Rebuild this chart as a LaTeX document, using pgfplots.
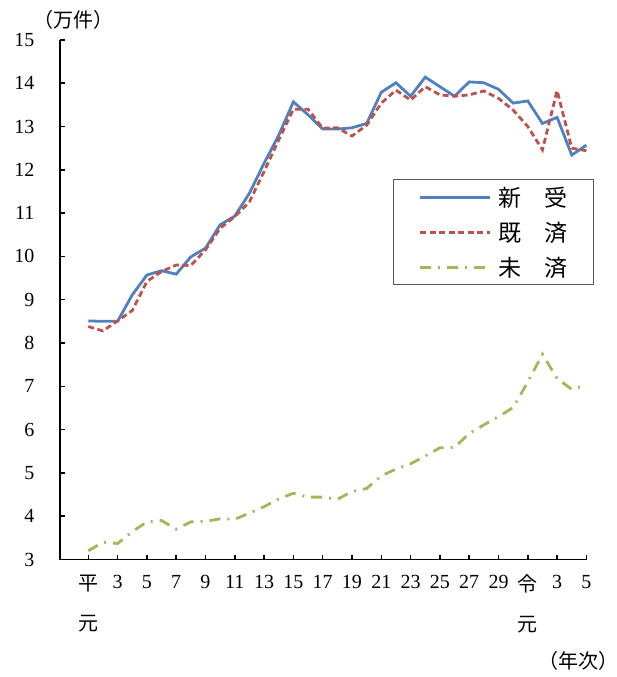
\documentclass[border=0pt]{standalone}
\usepackage{fontspec}
\setmainfont{Liberation Serif}
\newfontfamily\jp{Noto Sans CJK JP}
\usepackage{pgfplots}
\pgfplotsset{compat=1.18}
\definecolor{cblue}{HTML}{4F81BD}
\definecolor{cred}{HTML}{C0504D}
\definecolor{cgreen}{HTML}{9BBB59}
\begin{document}
\begin{tikzpicture}
\useasboundingbox (-60bp,-117.5bp) rectangle (557bp,559.5bp);
\begin{axis}[
  at={(0bp,0bp)}, anchor=south west,
  scale only axis, width=526.4bp, height=519.6bp,
  xmin=-1.93, xmax=34, ymin=3, ymax=15,
  axis x line=bottom, axis y line=left,
  axis line style={-, line width=1.8bp, black},
  xtick={0,2,...,34},
  xticklabels={{\jp 平\\[16bp]\jp 元},3,5,7,9,11,13,15,17,19,21,23,25,27,29,{\jp 令\\[16bp]\jp 元},3,5},
  ytick={3,4,...,15},
  tick align=inside, major tick length=5bp,
  tick style={line width=1.5bp, black},
  ticklabel style={font=\fontsize{20bp}{24bp}\selectfont},
  xticklabel style={align=center, yshift=-12bp},
  yticklabel style={xshift=-22bp},
  /pgf/number format/assume math mode=true,
  clip=false,
  legend style={at={(axis description cs:0.632,0.7317)}, anchor=north west,
    draw=black!65, line width=0.8bp, inner xsep=26bp, inner ysep=0bp,
    font=\jp\fontsize{23bp}{27bp}\selectfont,
    nodes={inner sep=0pt, minimum height=35bp},
    /tikz/every odd column/.style={column sep=7bp}},
  legend cell align=left,
  legend image code/.code={\draw[#1] (0bp,0bp) -- (70bp,0bp);},
]
\addplot[cblue, line width=2.8bp] coordinates {
(0,8.51)(1,8.50)(2,8.50)(3,9.11)(4,9.57)(5,9.67)(6,9.59)(7,9.99)(8,10.19)(9,10.73)
(10,10.93)(11,11.46)(12,12.15)(13,12.80)(14,13.57)(15,13.27)(16,12.94)(17,12.94)(18,12.97)(19,13.07)
(20,13.79)(21,14.01)(22,13.70)(23,14.14)(24,13.92)(25,13.70)(26,14.03)(27,14.01)(28,13.86)(29,13.54)
(30,13.59)(31,13.07)(32,13.21)(33,12.34)(34,12.57)};
\addlegendentry{新\hspace{23bp}受}
\addplot[cred, line width=2.8bp, dash pattern=on 6bp off 3.5bp] coordinates {
(0,8.38)(1,8.28)(2,8.51)(3,8.75)(4,9.42)(5,9.65)(6,9.80)(7,9.79)(8,10.15)(9,10.65)
(10,10.92)(11,11.26)(12,11.96)(13,12.69)(14,13.40)(15,13.40)(16,12.96)(17,12.97)(18,12.78)(19,13.03)
(20,13.54)(21,13.84)(22,13.61)(23,13.92)(24,13.73)(25,13.70)(26,13.73)(27,13.82)(28,13.65)(29,13.38)
(30,13.00)(31,12.46)(32,13.83)(33,12.50)(34,12.44)};
\addlegendentry{既\hspace{23bp}済}
\addplot[cgreen, line width=2.8bp, dash pattern=on 11bp off 7bp on 2bp off 7bp] coordinates {
(0,3.20)(1,3.40)(2,3.37)(3,3.64)(4,3.87)(5,3.90)(6,3.70)(7,3.87)(8,3.88)(9,3.94)
(10,3.93)(11,4.07)(12,4.22)(13,4.40)(14,4.53)(15,4.44)(16,4.44)(17,4.39)(18,4.57)(19,4.64)
(20,4.93)(21,5.09)(22,5.21)(23,5.39)(24,5.58)(25,5.59)(26,5.91)(27,6.11)(28,6.30)(29,6.51)
(30,7.10)(31,7.74)(32,7.18)(33,6.93)(34,7.03)};
\addlegendentry{未\hspace{23bp}済}
\end{axis}
\node[font=\jp\fontsize{20bp}{24bp}\selectfont] at (13bp,539.5bp) {（万件）};
\node[font=\jp\fontsize{20bp}{24bp}\selectfont] at (518bp,-101.5bp) {（年次）};
\end{tikzpicture}
\end{document}
